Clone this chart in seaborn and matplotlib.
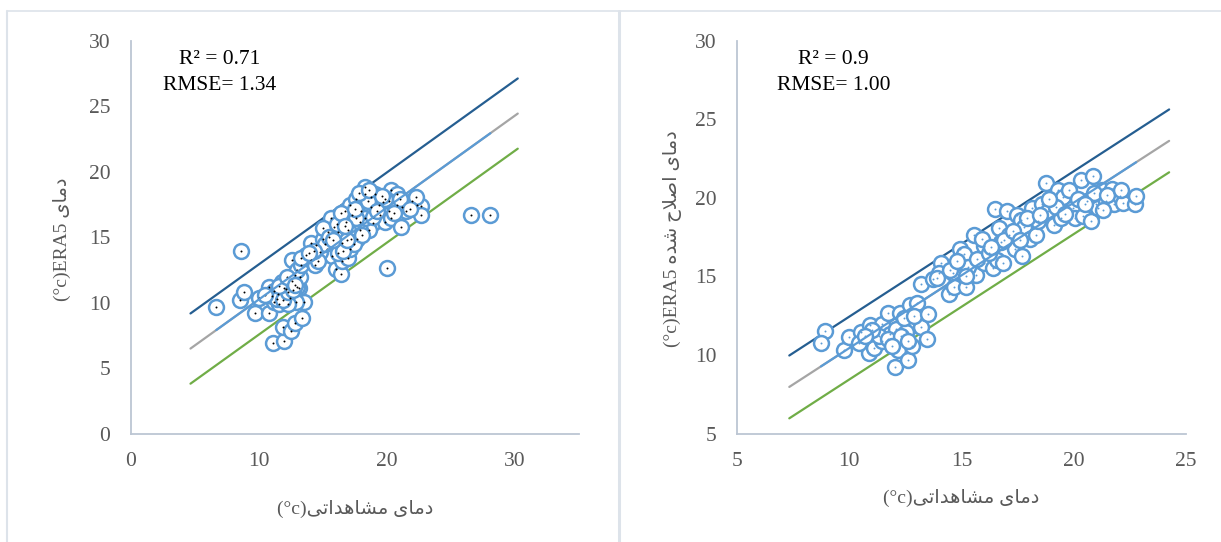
import numpy as np
import matplotlib
matplotlib.use("Agg")
import matplotlib.pyplot as plt
from matplotlib.lines import Line2D
import seaborn as sns

# ---- data ----
# left panel: observed vs raw ERA5
obs_raw = [6.67, 8.62, 8.55, 8.86, 9.67, 9.97, 10.82, 10.82, 11.08, 11.99, 11.9, 12.5, 12.8, 13.4, 13.5,
           12.0, 13.1, 12.8, 12.6, 13.7, 20.0, 26.6, 28.1,
           11.2, 11.5, 11.6, 12.1, 12.4, 11.8, 13.0, 13.2, 12.9, 12.25, 11.2, 12.55, 13.0, 13.3, 14.1, 14.4,
           11.0, 11.4, 11.9, 12.3, 12.7, 11.6, 10.5, 12.2, 12.8, 13.3,
           14.5, 14.1, 15.0, 15.4, 15.9, 15.6, 15.0, 15.3, 15.75, 16.0, 16.4, 16.5, 16.2, 17.0, 17.1, 16.5,
           17.2, 16.2, 16.8, 16.7, 17.1, 17.6, 17.3, 17.7, 17.9, 18.0, 18.3, 18.3, 18.8, 18.8, 18.9, 18.6,
           17.9, 17.4, 17.0, 18.3, 19.4, 19.7, 19.5, 19.85, 20.15, 20.3, 20.8, 20.3, 21.1, 21.2, 21.5, 22.0,
           22.4, 22.7, 22.7, 22.3, 20.8, 20.15, 19.1, 19.85, 18.9, 17.6,
           14.8, 14.6, 15.2, 15.5, 16.6, 16.9, 16.1, 16.4, 17.5, 18.5, 19.2, 19.6, 20.6, 21.0, 21.8, 14.3,
           13.9, 15.8, 16.7, 18.1, 17.8, 18.6]
era_raw = [9.68, 13.93, 10.24, 10.87, 9.22, 10.35, 9.22, 11.25, 6.94, 7.12, 8.18, 7.84, 8.44, 8.89, 10.08,
           11.16, 11.16, 12.1, 13.3, 13.65, 12.7, 16.7, 16.7,
           10.1, 10.7, 9.9, 11.1, 10.4, 11.6, 11.2, 12.0, 10.1, 9.9, 10.9, 11.7, 12.5, 12.9, 13.3, 12.9,
           10.5, 10.3, 10.2, 10.8, 11.0, 11.3, 10.6, 12.0, 11.4, 13.4,
           14.4, 14.6, 14.9, 15.4, 15.8, 16.5, 15.7, 14.1, 13.6, 12.6, 12.25, 13.2, 13.8, 13.4, 14.1, 14.6,
           14.9, 15.4, 16.2, 17.0, 17.5, 17.9, 16.7, 14.9, 16.2, 17.0, 18.3, 18.85, 18.1, 17.3, 16.1, 15.6,
           15.6, 14.5, 15.6, 16.5, 17.5, 17.7, 16.7, 16.2, 17.0, 18.6, 18.3, 16.5, 15.8, 17.3, 17.0, 17.8,
           17.5, 17.4, 16.7, 18.1, 17.5, 17.8, 18.35, 17.9, 16.6, 16.5,
           13.9, 13.2, 14.5, 15.0, 14.0, 14.8, 16.0, 16.9, 17.2, 17.8, 17.0, 18.2, 16.9, 17.9, 17.2, 14.0,
           13.8, 14.8, 15.9, 15.2, 18.4, 18.6]

# right panel: observed vs corrected ERA5
obs_cor = [8.90, 8.73, 9.74, 10.0, 10.5, 10.86, 10.9, 11.1, 11.45, 11.73, 11.47, 11.8, 12.04, 12.08, 12.25,
           12.16, 12.6, 12.77, 12.7, 13.03, 12.86, 13.2, 13.46, 12.51, 12.42, 11.3, 10.43,
           13.17, 13.73, 14.07, 14.0, 14.42, 14.6, 14.68, 14.94, 15.1, 15.2, 15.55, 15.63, 15.98, 15.98, 15.9,
           16.4, 16.5, 16.6, 16.67, 16.76, 16.85, 17.02, 17.1, 17.37, 17.45, 17.63, 17.71, 17.8, 18.06, 18.15,
           18.3, 18.4, 18.58, 18.76, 18.84, 19.1, 19.28, 19.45, 19.54, 19.8, 19.97, 20.06, 20.32, 20.4, 20.58,
           20.75, 20.84, 21.0, 21.1, 21.27, 21.44, 21.7, 21.8, 22.05, 22.2, 22.75, 22.78,
           11.0, 11.7, 12.3, 12.9, 13.5, 12.6, 11.9, 10.7, 13.9, 14.5, 15.3, 15.7, 16.2, 16.9, 17.3, 17.9,
           18.5, 19.2, 19.6, 20.2, 20.9, 21.5, 22.1, 18.9, 17.6, 16.3, 15.2, 14.8, 21.3, 20.5]
era_cor = [11.50, 10.79, 10.31, 11.12, 11.45, 10.13, 11.9, 10.46, 12.0, 12.67, 10.9, 11.34, 9.25, 11.67, 12.67,
           10.35, 9.69, 10.57, 13.2, 13.33, 11.9, 11.78, 11.0, 11.45, 12.33, 11.23, 10.79,
           14.54, 14.87, 15.86, 15.2, 13.88, 15.2, 14.32, 16.74, 16.4, 14.32, 17.62, 15.1, 15.86, 16.96, 17.4,
           15.53, 19.27, 16.08, 18.06, 17.18, 15.86, 19.16, 17.62, 16.74, 18.94, 18.61, 16.3, 18.17, 17.4, 19.38,
           17.62, 18.5, 19.6, 20.93, 19.16, 18.28, 20.48, 18.72, 20.04, 20.48, 19.38, 18.72, 21.15, 18.83, 19.82,
           18.5, 21.37, 19.6, 19.38, 20.48, 19.82, 20.6, 19.6, 20.15, 19.7, 19.6, 20.15,
           11.6, 11.0, 11.2, 12.5, 12.6, 10.9, 10.6, 11.2, 14.9, 15.4, 15.6, 16.1, 16.5, 17.3, 17.9, 18.7,
           18.9, 19.4, 19.0, 19.9, 20.3, 20.2, 20.5, 19.9, 17.3, 16.9, 15.0, 16.0, 19.2, 19.6]

# fitted line (slope, intercept), band half width (2*RMSE) and x-range of the band lines
fit_raw = (0.701, 3.26)
fit_cor = (0.925, 1.20)
band_raw = 2.68
band_cor = 2.00
span_raw = [4.65, 30.24]
span_cor = [7.32, 24.25]

stats_raw = ["R\u00b2 = 0.71", "RMSE= 1.34"]
stats_cor = ["R\u00b2 = 0.9", "RMSE= 1.00"]

# ---- tiny Persian shaper (matplotlib does no Arabic shaping) ----
FORMS = {
    'ا': ('\uFE8D', '\uFE8E', None, None),
    'د': ('\uFEA9', '\uFEAA', None, None),
    'م': ('\uFEE1', '\uFEE2', '\uFEE3', '\uFEE4'),
    'ی': ('\uFEEF', '\uFEF0', '\uFEF3', '\uFEF4'),
    'ش': ('\uFEB5', '\uFEB6', '\uFEB7', '\uFEB8'),
    'ه': ('\uFEE9', '\uFEEA', '\uFEEB', '\uFEEC'),
    'ت': ('\uFE95', '\uFE96', '\uFE97', '\uFE98'),
    'ص': ('\uFEB9', '\uFEBA', '\uFEBB', '\uFEBC'),
    'ل': ('\uFEDD', '\uFEDE', '\uFEDF', '\uFEE0'),
    'ح': ('\uFEA1', '\uFEA2', '\uFEA3', '\uFEA4'),
}


def shape_word(w):
    out = []
    i = 0
    while i < len(w):
        c = w[i]
        prev = i > 0 and FORMS[w[i - 1]][2] is not None and not (i > 1 and w[i - 2] == 'ل' and w[i - 1] == 'ا')
        if c == 'ل' and i + 1 < len(w) and w[i + 1] == 'ا':
            out.append('\uFEFC' if prev else '\uFEFB')
            i += 2
            continue
        nxt = i + 1 < len(w) and FORMS[c][2] is not None
        iso, fin, ini, med = FORMS[c]
        out.append(med if prev and nxt else fin if prev else ini if nxt else iso)
        i += 1
    return ''.join(reversed(out))


def rtl(text):
    return ' '.join(shape_word(w) for w in reversed(text.split(' ')))


xlab = "(\u00b0c)" + rtl("دمای مشاهداتی")
ylab_raw = "(\u00b0c)ERA5 " + rtl("دمای")
ylab_cor = "(\u00b0c)ERA5 " + rtl("دمای اصلاح شده")

# ---- style ----
sns.set_theme(style="white")
plt.rcParams['font.family'] = ['Liberation Serif', 'DejaVu Sans']

BLUE = "#5B9BD5"
DARK = "#255E91"
GRAY = "#A5A5A5"
GREEN = "#70AD47"
TXT = "#595959"
SPINE = "#BCC6D3"

fig = plt.figure(figsize=(12.21, 5.42), dpi=100)
ax1 = fig.add_axes([0.1073, 0.1993, 0.3666, 0.7251])
ax2 = fig.add_axes([0.6038, 0.2000, 0.3675, 0.7247])


def panel(ax, x, y, fit, band, span, stats, dot, xlim, ylim, xticks, yticks, ylab, xl_y, yl_x, tx):
    m, b = fit
    span = np.array(span)
    sns.lineplot(x=span, y=m * span + b + band, color=DARK, linewidth=1.6, ax=ax, zorder=1)
    sns.lineplot(x=span, y=m * span + b, color=GRAY, linewidth=1.6, ax=ax, zorder=1)
    sns.lineplot(x=span, y=m * span + b - band, color=GREEN, linewidth=1.6, ax=ax, zorder=1)
    sns.scatterplot(x=x, y=y, ax=ax, s=115, color="white", edgecolor=BLUE, linewidth=1.8, zorder=2)
    sns.scatterplot(x=x, y=y, ax=ax, s=2, color=dot, linewidth=0, zorder=3)
    fx = np.array([min(x), max(x)])
    sns.lineplot(x=fx, y=m * fx + b, color=BLUE, linewidth=1.6, ax=ax, zorder=4)

    ax.set_xlim(*xlim)
    ax.set_ylim(*ylim)
    ax.set_xticks(xticks)
    ax.set_yticks(yticks)
    ax.tick_params(length=0, labelsize=15.5, labelcolor=TXT)
    ax.tick_params(axis='x', pad=13)
    ax.tick_params(axis='y', pad=15)
    for s in ['top', 'right']:
        ax.spines[s].set_visible(False)
    for s in ['left', 'bottom']:
        ax.spines[s].set_color(SPINE)
        ax.spines[s].set_linewidth(1.3)
    ax.set_xlabel('')
    ax.set_ylabel('')
    ax.text(0.5, xl_y, xlab, transform=ax.transAxes, ha='center', va='center', fontsize=14, color=TXT)
    ax.text(yl_x, 0.496, ylab, transform=ax.transAxes, ha='center', va='center', rotation=90,
            fontsize=14, color=TXT)
    ax.text(tx, 0.953, stats[0], transform=ax.transAxes, ha='center', va='center', fontsize=15.5, color='black')
    ax.text(tx, 0.887, stats[1], transform=ax.transAxes, ha='center', va='center', fontsize=15.5, color='black')


panel(ax1, obs_raw, era_raw, fit_raw, band_raw, span_raw, stats_raw, "black",
      (0, 35), (0, 30), [0, 10, 20, 30], [0, 5, 10, 15, 20, 25, 30], ylab_raw, -0.19, -0.154, 0.199)
panel(ax2, obs_cor, era_cor, fit_cor, band_cor, span_cor, stats_cor, BLUE,
      (5, 25), (5, 30), [5, 10, 15, 20, 25], [5, 10, 15, 20, 25, 30], ylab_cor, -0.164, -0.145, 0.215)

# light frame lines of the two chart boxes
W, H = 1221.0, 542.0
BOX = "#DDE3EA"
fig.add_artist(Line2D([7 / W, 1.0], [1 - 11 / H, 1 - 11 / H], color=BOX, linewidth=1.2))
fig.add_artist(Line2D([7.5 / W, 7.5 / W], [0, 1 - 11 / H], color=BOX, linewidth=1.5))
fig.add_artist(Line2D([619 / W, 619 / W], [0, 1 - 11 / H], color=BOX, linewidth=2.2))

fig.savefig("out.png", dpi=100, facecolor="white")
